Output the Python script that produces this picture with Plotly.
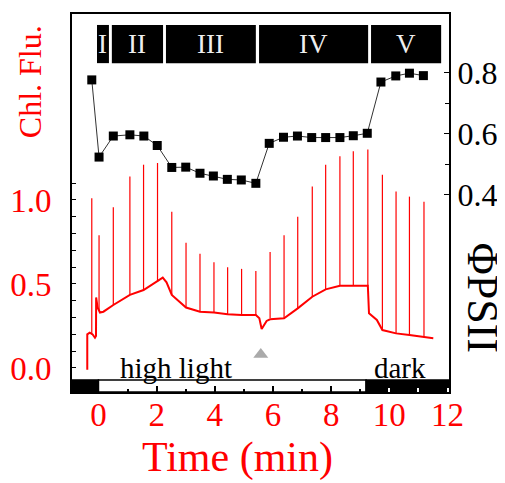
import plotly.graph_objects as go

# ---------------- data ----------------
# Chlorophyll fluorescence baseline (time in min, relative units)
base_t = [-0.385, -0.385, -0.30, -0.20, -0.12, -0.085, -0.08, -0.03, 0.05, 0.17, 0.51, 1.08,
          1.55, 2.02, 2.21, 2.34, 2.52, 3.01, 3.49, 3.97, 4.44, 4.92, 5.41, 5.53, 5.61, 5.78,
          5.90, 6.38, 6.85, 7.35, 7.81, 8.30, 8.76, 9.26, 9.30, 9.57, 9.76, 10.23, 10.69,
          11.19, 11.51]
base_v = [-0.01, 0.20, 0.21, 0.20, 0.18, 0.19, 0.42, 0.36, 0.33, 0.335, 0.375, 0.435,
          0.464, 0.514, 0.538, 0.51, 0.435, 0.36, 0.335, 0.33, 0.32, 0.315, 0.315, 0.296,
          0.232, 0.28, 0.29, 0.296, 0.355, 0.424, 0.468, 0.49, 0.49, 0.49, 0.325, 0.286,
          0.226, 0.206, 0.196, 0.183, 0.177]

# Saturating pulses: time, foot value, peak value
spike_t = [-0.23, 0.02, 0.51, 1.08, 1.55, 2.03, 2.52, 3.01, 3.49, 3.97, 4.44, 4.92, 5.41,
           5.90, 6.38, 6.85, 7.35, 7.81, 8.30, 8.76, 9.26, 9.76, 10.23, 10.69, 11.19]
spike_base = [0.20, 0.34, 0.375, 0.435, 0.464, 0.514, 0.435, 0.36, 0.335, 0.33, 0.32, 0.315,
              0.315, 0.298, 0.296, 0.355, 0.424, 0.468, 0.49, 0.49, 0.49, 0.226, 0.206,
              0.196, 0.183]
spike_top = [1.01, 0.79, 0.957, 1.14, 1.21, 1.22, 0.93, 0.746, 0.68, 0.63, 0.60, 0.59, 0.577,
             0.69, 0.79, 0.90, 1.08, 1.21, 1.26, 1.29, 1.30, 1.15, 1.05, 1.02, 0.99]

# PhiPSII values at each pulse
phi_t = [-0.23, 0.02, 0.51, 1.08, 1.56, 2.02, 2.52, 3.00, 3.49, 3.95, 4.43, 4.91, 5.41,
         5.87, 6.36, 6.84, 7.33, 7.81, 8.30, 8.76, 9.24, 9.71, 10.22, 10.69, 11.17]
phi_v = [0.777, 0.524, 0.593, 0.597, 0.593, 0.562, 0.490, 0.491, 0.471, 0.462, 0.451, 0.449,
         0.438, 0.569, 0.589, 0.593, 0.588, 0.588, 0.588, 0.594, 0.602, 0.770, 0.790, 0.799,
         0.791]

# Phases
phase_labels = ["I", "II", "III", "IV", "V"]
phase_start = [-0.05, 0.46, 2.32, 5.52, 9.37]
phase_end = [0.36, 2.22, 5.41, 9.27, 11.78]

# Light regime bar
light_on = 0.0
light_off = 9.2
marker_t = [5.58]
marker_v = [0.08]

x_range = [-0.91, 12.05]
y1_range = [-0.143, 2.107]
y2_range = [-0.246, 0.993]

x_ticks = [0, 2, 4, 6, 8, 10, 12]
x_minor = [1, 3, 5, 7, 9, 11]
x_dark_ticks = [10, 11, 12]
y1_ticks = [0.0, 0.5, 1.0]
y1_minor = [0.1, 0.2, 0.3, 0.4, 0.6, 0.7, 0.8, 0.9, 1.1]
y2_ticks = [0.4, 0.6, 0.8]
y2_minor = [0.5, 0.7]

FONT = "Liberation Serif"
RED = "#ff0000"

# ---------------- figure ----------------
fig = go.Figure()

# spikes as vertical segments
sx, sy = [], []
for t, b, p in zip(spike_t, spike_base, spike_top):
    sx += [t, t, None]
    sy += [b, p, None]
fig.add_trace(go.Scatter(x=sx, y=sy, mode="lines", line=dict(color=RED, width=1.2),
                         hoverinfo="skip", showlegend=False))
fig.add_trace(go.Scatter(x=base_t, y=base_v, mode="lines", line=dict(color=RED, width=2),
                         showlegend=False))
fig.add_trace(go.Scatter(x=marker_t, y=marker_v, mode="markers",
                         marker=dict(symbol="triangle-up", size=13, color="#aaaaaa"),
                         showlegend=False))
fig.add_trace(go.Scatter(x=phi_t, y=phi_v, yaxis="y2", mode="lines+markers",
                         line=dict(color="#333333", width=1),
                         marker=dict(symbol="square", size=9, color="black"),
                         showlegend=False))

shapes = []
# bottom light bar
bar_y0, bar_y1 = 0.0, 0.032
shapes.append(dict(type="rect", xref="x", yref="y domain", x0=x_range[0], x1=light_on,
                   y0=bar_y0, y1=bar_y1, fillcolor="black", line=dict(color="black", width=1.5),
                   layer="below"))
shapes.append(dict(type="rect", xref="x", yref="y domain", x0=light_on, x1=light_off,
                   y0=bar_y0, y1=bar_y1, fillcolor="white", line=dict(color="black", width=1.5),
                   layer="below"))
shapes.append(dict(type="rect", xref="x", yref="y domain", x0=light_off, x1=x_range[1],
                   y0=bar_y0, y1=bar_y1, fillcolor="black", line=dict(color="black", width=1.5),
                   layer="below"))
# phase boxes
annotations = []
for lab, a, b in zip(phase_labels, phase_start, phase_end):
    shapes.append(dict(type="rect", xref="x", yref="y domain", x0=a, x1=b, y0=0.870, y1=0.971,
                       fillcolor="black", line=dict(width=0), layer="below"))
    annotations.append(dict(x=(a + b) / 2, y=0.921, xref="x", yref="y domain", text=lab,
                            showarrow=False, font=dict(family=FONT, size=27, color="#eeeeee"),
                            xanchor="center", yanchor="middle"))

annotations += [
    dict(x=2.67, y=0.0, xref="x", yref="y", text="high light", showarrow=False,
         font=dict(family=FONT, size=29, color="black"), xanchor="center", yanchor="middle"),
    dict(x=10.37, y=0.0, xref="x", yref="y", text="dark", showarrow=False,
         font=dict(family=FONT, size=29, color="black"), xanchor="center", yanchor="middle"),
    dict(x=0.438, y=-0.172, xref="paper", yref="paper", text="Time (min)", showarrow=False,
         font=dict(family=FONT, size=42, color=RED), xanchor="center", yanchor="middle"),
    dict(x=-0.111, y=0.82, xref="paper", yref="paper", text="Chl. Flu.", showarrow=False,
         textangle=-90, font=dict(family=FONT, size=32, color=RED),
         xanchor="center", yanchor="middle"),
    dict(x=1.088, y=0.249, xref="paper", yref="paper", text="ΦPSII", showarrow=False,
         textangle=90, font=dict(family=FONT, size=44, color="black"),
         xanchor="center", yanchor="middle"),
]

# The page body adds an 8px offset, so the figure is sized to fill the rest of the window.
fig.update_layout(
    width=497, height=475,
    margin=dict(l=64, r=56, t=6, b=91, autoexpand=False),
    paper_bgcolor="white", plot_bgcolor="white",
    shapes=shapes, annotations=annotations,
    xaxis=dict(range=x_range, showgrid=False, zeroline=False, showline=True, linecolor="black",
               linewidth=2, mirror=True, ticks="inside", ticklen=6, tickwidth=1.5,
               tickcolor="black", tickvals=x_ticks, ticktext=[str(v) for v in x_ticks],
               tickfont=dict(family=FONT, size=33, color=RED), ticklabelstandoff=-8,
               automargin=False,
               minor=dict(tickvals=x_minor, ticks="inside", ticklen=3, tickcolor="black",
                          tickwidth=1.5)),
    xaxis2=dict(range=x_range, overlaying="x", side="bottom", showgrid=False, zeroline=False,
                showline=False, ticks="inside", ticklen=4, tickwidth=1.5, tickcolor="white",
                tickvals=x_dark_ticks, showticklabels=False, automargin=False),
    yaxis=dict(range=y1_range, showgrid=False, zeroline=False, showline=True, linecolor="black",
               linewidth=2, ticks="inside", ticklen=4, tickwidth=1.2, tickcolor="black",
               tickvals=y1_ticks, ticktext=["0.0", "0.5", "1.0"],
               tickfont=dict(family=FONT, size=33, color=RED), ticklabelstandoff=12,
               automargin=False,
               minor=dict(tickvals=y1_minor, ticks="inside", ticklen=4, tickcolor="black",
                          tickwidth=1.2)),
    yaxis2=dict(range=y2_range, overlaying="y", side="right", showgrid=False, zeroline=False,
                showline=True, linecolor="black", linewidth=2, ticks="inside", ticklen=5,
                tickwidth=1.2, tickcolor="black", tickvals=y2_ticks,
                ticktext=["0.4", "0.6", "0.8"], automargin=False,
                tickfont=dict(family=FONT, size=32, color="black"), ticklabelstandoff=0,
                minor=dict(tickvals=y2_minor, ticks="inside", ticklen=4, tickcolor="black",
                           tickwidth=1.2)),
)
# invisible trace to activate xaxis2 for the white ticks in the dark region
fig.add_trace(go.Scatter(x=[x_range[0]], y=[y1_range[0]], xaxis="x2", mode="markers",
                         marker=dict(opacity=0), hoverinfo="skip", showlegend=False))

fig.write_html("out.html")
